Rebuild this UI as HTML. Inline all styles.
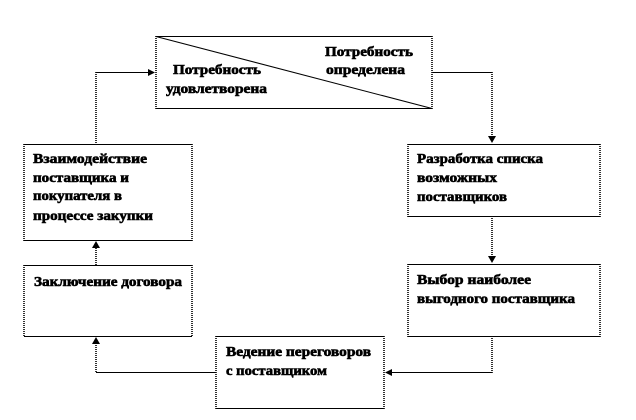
<!DOCTYPE html>
<html lang="ru">
<head>
<meta charset="utf-8">
<style>
html,body{margin:0;padding:0;background:#fff;width:636px;height:420px;overflow:hidden}
svg{display:block}
text{font-family:"Liberation Serif","DejaVu Serif",serif;font-weight:bold;font-size:13.5px;fill:#000;stroke:#000;stroke-width:.6px}
.h{stroke:#000;stroke-width:1;fill:none;shape-rendering:crispEdges}
.v{stroke:#000;stroke-width:1.6;stroke-dasharray:1 1;fill:none}
.a{fill:#000;stroke:none}
</style>
</head>
<body>
<svg width="636" height="420" viewBox="0 0 636 420" xmlns="http://www.w3.org/2000/svg">
<!-- top box -->
<path class="h" d="M156 36.500H432M156 108.500H432"/>
<path class="v" d="M156 36V109M432 36V109"/>
<path d="M156 36.500L432 108.500" stroke="#000" stroke-width="1" fill="none"/>
<!-- boxes horizontal edges -->
<path class="h" d="M24 144.500H192M24 240.500H192M24 265.500H192M24 336.500H192M408 144.500H600M408 216.500H600M408 264.500H600M408 336.500H600M216 336.500H384M216 408.500H384"/>
<!-- boxes vertical edges -->
<path class="v" d="M24 144V241M192 144V241M24 265V337M192 265V337M408 144V217M600 144V217M408 264V337M600 264V337M216 336V409M384 336V409"/>
<!-- connectors -->
<path class="h" d="M96 72.500H150M432 72.500H492M492 372.500H390M216 372.500H96"/>
<path class="v" d="M96 72V144M492 72V137M492 216V257M492 336V373M96 265V246M96 372V342"/>
<!-- arrowheads -->
<path class="a" d="M155 72.500L148 69V76Z"/>
<path class="a" d="M492 143L488 136H496Z"/>
<path class="a" d="M492 263L488 256H496Z"/>
<path class="a" d="M385 372.500L392 369V376Z"/>
<path class="a" d="M96 241L92 248H100Z"/>
<path class="a" d="M96 337L92 344H100Z"/>
<!-- labels -->
<text x="325" y="56" textLength="88" lengthAdjust="spacingAndGlyphs">Потребность</text>
<text x="326" y="74" textLength="79" lengthAdjust="spacingAndGlyphs">определена</text>
<text x="173" y="74" textLength="88" lengthAdjust="spacingAndGlyphs">Потребность</text>
<text x="166" y="93" textLength="101" lengthAdjust="spacingAndGlyphs">удовлетворена</text>
<text x="33" y="163" textLength="114" lengthAdjust="spacingAndGlyphs">Взаимодействие</text>
<text x="33" y="182" textLength="96" lengthAdjust="spacingAndGlyphs">поставщика и</text>
<text x="33" y="200" textLength="89" lengthAdjust="spacingAndGlyphs">покупателя в</text>
<text x="33" y="220" textLength="120" lengthAdjust="spacingAndGlyphs">процессе закупки</text>
<text x="34" y="286" textLength="148" lengthAdjust="spacingAndGlyphs">Заключение договора</text>
<text x="417" y="163" textLength="126" lengthAdjust="spacingAndGlyphs">Разработка списка</text>
<text x="417" y="182" textLength="80" lengthAdjust="spacingAndGlyphs">возможных</text>
<text x="417" y="201" textLength="90" lengthAdjust="spacingAndGlyphs">поставщиков</text>
<text x="417" y="284" textLength="114" lengthAdjust="spacingAndGlyphs">Выбор наиболее</text>
<text x="417" y="303" textLength="158" lengthAdjust="spacingAndGlyphs">выгодного поставщика</text>
<text x="226" y="356" textLength="145" lengthAdjust="spacingAndGlyphs">Ведение переговоров</text>
<text x="226" y="375" textLength="101" lengthAdjust="spacingAndGlyphs">с поставщиком</text>
</svg>
</body>
</html>
